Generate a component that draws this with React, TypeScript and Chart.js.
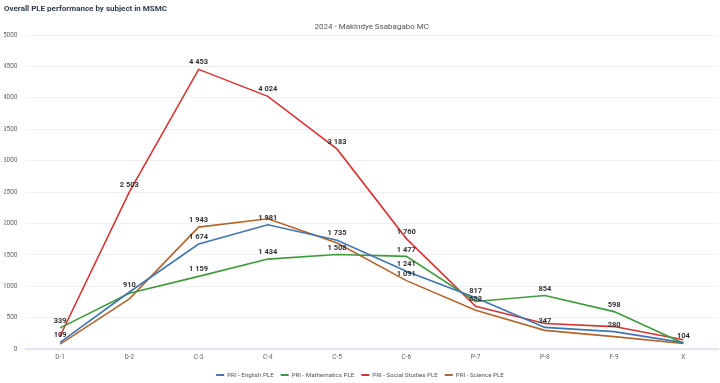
import React, { useEffect, useRef } from "react";
import { Chart, registerables } from "chart.js";

Chart.register(...registerables);

const categories = ["D-1", "D-2", "C-3", "C-4", "C-5", "C-6", "P-7", "P-8", "F-9", "X"];
const seriesNames = ["PRI - English PLE", "PRI - Mathematics PLE", "PRI - Social Studies PLE", "PRI - Science PLE"];
const english = [109, 910, 1674, 1981, 1735, 1241, 817, 347, 280, 104];
const mathematics = [339, 890, 1159, 1434, 1508, 1477, 760, 854, 598, 95];
const socialStudies = [210, 2503, 4453, 4024, 3183, 1760, 682, 410, 360, 150];
const science = [80, 800, 1943, 2075, 1690, 1091, 620, 300, 200, 90];
// which points carry a visible value label (others hidden by overlap in the original)
const englishLabels = [1, 1, 1, 1, 1, 1, 1, 1, 1, 1];
const mathLabels = [1, 0, 1, 1, 1, 1, 0, 1, 1, 0];
const socialLabels = [0, 1, 1, 1, 1, 1, 1, 0, 0, 0];
const scienceLabels = [0, 0, 1, 0, 0, 1, 0, 0, 0, 0];
const colors = ["#3f75b0", "#3f9a3c", "#d43535", "#b3652f"];
const yTicks = [0, 500, 1000, 1500, 2000, 2500, 3000, 3500, 4000, 4500, 5000];

const fmt = (v: number) => String(v).replace(/\B(?=(\d{3})+(?!\d))/g, " ");

const labelPlugin = {
  id: "valueLabels",
  afterDatasetsDraw(chart: any) {
    const ctx = chart.ctx;
    const flags = [englishLabels, mathLabels, socialLabels, scienceLabels];
    ctx.save();
    ctx.font = "bold 7.5px Roboto";
    ctx.fillStyle = "#333";
    ctx.textAlign = "center";
    ctx.textBaseline = "bottom";
    chart.data.datasets.forEach((ds: any, i: number) => {
      const meta = chart.getDatasetMeta(i);
      meta.data.forEach((pt: any, j: number) => {
        if (!flags[i][j]) return;
        ctx.fillText(fmt(ds.data[j]), pt.x, pt.y - 3);
      });
    });
    ctx.restore();
  },
};

const legendPlugin = {
  id: "bottomLegend",
  afterDraw(chart: any) {
    const ctx = chart.ctx;
    ctx.save();
    ctx.font = "6.2px Roboto";
    ctx.textBaseline = "middle";
    ctx.textAlign = "left";
    const box = 8;
    const gap = 3;
    const itemGap = 7;
    const widths = chart.data.datasets.map((ds: any) => box + gap + ctx.measureText(ds.label).width);
    const total = widths.reduce((a: number, b: number) => a + b, 0) + itemGap * (widths.length - 1);
    let x = chart.width / 2 - total / 2;
    const y = chart.height - 8;
    chart.data.datasets.forEach((ds: any, i: number) => {
      ctx.fillStyle = ds.borderColor;
      ctx.fillRect(x, y - 1, box, 2);
      ctx.fillStyle = "#555";
      ctx.fillText(ds.label, x + box + gap, y);
      x += widths[i] + itemGap;
    });
    ctx.restore();
  },
};

export default function App() {
  const ref = useRef<HTMLCanvasElement>(null);
  useEffect(() => {
    document.body.style.margin = "0";
    const data = [english, mathematics, socialStudies, science];
    const chart = new Chart(ref.current as HTMLCanvasElement, {
      type: "line",
      data: {
        labels: categories,
        datasets: data.map((d, i) => ({
          label: seriesNames[i],
          data: d,
          borderColor: colors[i],
          backgroundColor: colors[i],
          borderWidth: 1.6,
          pointRadius: 0,
          tension: 0,
        })),
      },
      options: {
        responsive: false,
        animation: false,
        layout: { padding: { left: 4, right: 2, top: 0, bottom: 18 } },
        plugins: {
          title: {
            display: true,
            text: "Overall PLE performance by subject in MSMC",
            align: "start",
            color: "#2e3d4f",
            font: { family: "Roboto", size: 8, weight: "bold" },
            padding: { top: 4, bottom: 4.2 },
          },
          subtitle: {
            display: true,
            text: "2024 - Makindye Ssabagabo MC",
            fullSize: false,
            color: "#555",
            font: { family: "Roboto", size: 8 },
            padding: { top: 4.6, bottom: 3 },
          },
          legend: { display: false },
          tooltip: { enabled: false },
        },
        scales: {
          x: {
            offset: true,
            grid: { display: false, drawTicks: false },
            border: { color: "#dfe5ee", width: 2 },
            ticks: { color: "#666", font: { family: "Roboto", size: 6.5 }, padding: 4 },
          },
          y: {
            min: 0,
            max: 5000,
            afterBuildTicks: (axis: any) => {
              axis.ticks = yTicks.map((v) => ({ value: v }));
            },
            afterFit: (axis: any) => {
              axis.width = 21.5;
            },
            grid: { color: "#f0f0f0", drawTicks: false },
            border: { display: false },
            ticks: {
              color: "#666",
              font: { family: "Roboto", size: 6.5 },
              padding: 8,
              callback: (v: any) => String(v),
            },
          },
        },
      },
      plugins: [labelPlugin, legendPlugin],
    } as any);
    return () => chart.destroy();
  }, []);
  return (
    <div style={{ width: 720, height: 383 }}>
      <canvas ref={ref} width={720} height={383} style={{ display: "block" }} />
    </div>
  );
}
